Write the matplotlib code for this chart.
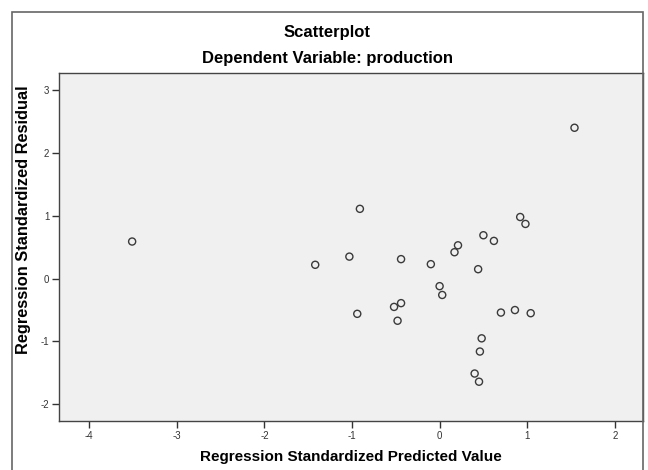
import matplotlib
matplotlib.use('Agg')
import matplotlib.pyplot as plt
from matplotlib.patches import Rectangle

# standardized predicted values (x) and standardized residuals (y)
predicted = [1.54, -3.51, -0.91, 0.92, 0.98, 0.50, 0.62, 0.21, 0.17,
             -1.42, -1.03, -0.44, -0.10, 0.44, 0.00, 0.03, -0.94, -0.44,
             -0.52, -0.48, 0.70, 0.86, 1.04, 0.48, 0.46, 0.40, 0.45]
residual = [2.40, 0.59, 1.11, 0.98, 0.87, 0.69, 0.60, 0.53, 0.42,
            0.22, 0.35, 0.31, 0.23, 0.15, -0.12, -0.26, -0.56, -0.39,
            -0.45, -0.67, -0.54, -0.50, -0.55, -0.95, -1.16, -1.51, -1.64]

x_ticks = [-4, -3, -2, -1, 0, 1, 2]
y_ticks = [-2, -1, 0, 1, 2, 3]

plt.rcParams['font.family'] = ['Liberation Sans', 'DejaVu Sans']
plt.rcParams['axes.unicode_minus'] = False  # SPSS uses a plain hyphen

W, H = 648, 470
fig = plt.figure(figsize=(W / 100, H / 100), dpi=100)

# outer frame (SPSS chart border), open at the bottom
frame = Rectangle((12 / W, -0.1), (643 - 12) / W, (H - 12) / H + 0.1,
                  transform=fig.transFigure, fill=False,
                  edgecolor='#666666', linewidth=1.2)
fig.add_artist(frame)

ax = fig.add_axes([59 / W, (H - 421) / H, (643 - 59) / W, (421 - 73) / H])
ax.set_facecolor('#f0f0f0')

ax.scatter(predicted, residual, s=26, facecolors='none',
           edgecolors='#3a3a3a', linewidths=1.0, zorder=3)

ax.set_xlim(-4.345, 2.322)
ax.set_ylim(-2.265, 3.271)
ax.set_xticks(x_ticks)
ax.set_yticks(y_ticks)
ax.tick_params(direction='out', length=5, width=1, color='#333333',
               labelsize=7, labelcolor='#333333', pad=2)

for s in ax.spines.values():
    s.set_color('#444444')
    s.set_linewidth(1.0)

ax.set_xlabel('Regression Standardized Predicted Value', fontsize=11,
              fontweight='bold', va='center')
ax.set_ylabel('Regression Standardized Residual', fontsize=11.8,
              fontweight='bold', va='center')
ax.xaxis.set_label_coords(351 / W, (H - 457) / H, transform=fig.transFigure)
ax.yaxis.set_label_coords(24 / W, (H - 220) / H, transform=fig.transFigure)

fig.text(327.5 / W, (H - 33) / H, 'Scatterplot', ha='center', va='center',
         fontsize=12, fontweight='bold')
fig.text(327.5 / W, (H - 59) / H, 'Dependent Variable: production',
         ha='center', va='center', fontsize=12, fontweight='bold')

fig.savefig('out.png', dpi=100)
